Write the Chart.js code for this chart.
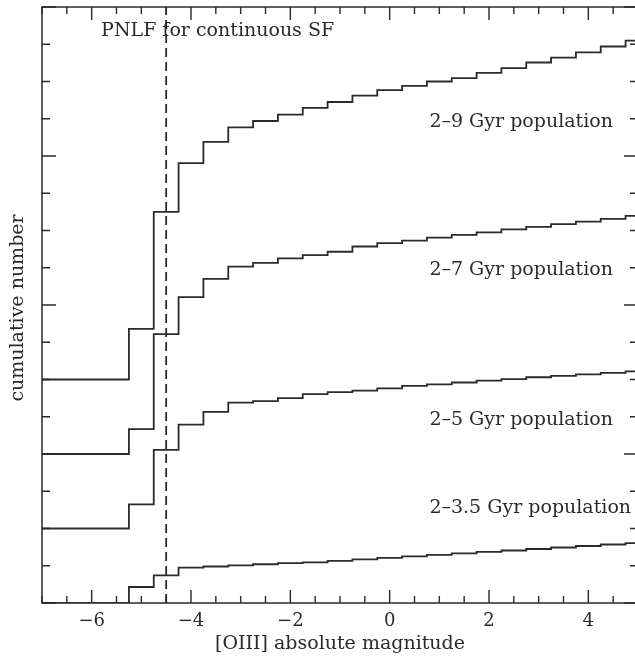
<!DOCTYPE html>
<html><head><meta charset="utf-8">
<script src="https://cdn.jsdelivr.net/npm/chart.js@4"></script>
<style>html,body{margin:0;padding:0;background:#fff;overflow:hidden}
#wrap{width:640px;height:656px;position:relative}</style></head>
<body><div id="wrap"><canvas id="c"></canvas></div>
<script>
// bin start magnitudes (last bin runs to xEnd)
const binStarts = [-7, -5.25, -4.75, -4.25, -3.75, -3.25, -2.75, -2.25, -1.75, -1.25, -0.75, -0.25, 0.25, 0.75, 1.25, 1.75, 2.25, 2.75, 3.25, 3.75, 4.25, 4.75];
const xEnd = 5;
// cumulative number (with vertical offsets as in the figure)
const pop2to9  = [6.0, 7.36, 10.50, 11.81, 12.38, 12.77, 12.94, 13.11, 13.29, 13.45, 13.62, 13.77, 13.88, 14.00, 14.09, 14.23, 14.36, 14.51, 14.64, 14.78, 14.94, 15.10];
const pop2to7  = [4.0, 4.67, 7.22, 8.21, 8.70, 9.03, 9.13, 9.25, 9.34, 9.43, 9.57, 9.66, 9.73, 9.81, 9.88, 9.95, 10.03, 10.10, 10.17, 10.24, 10.31, 10.39];
const pop2to5  = [2.0, 2.65, 4.11, 4.79, 5.13, 5.38, 5.42, 5.50, 5.61, 5.66, 5.70, 5.76, 5.83, 5.87, 5.92, 5.97, 6.01, 6.06, 6.10, 6.14, 6.18, 6.22];
const pop2to35 = [0.0, 0.43, 0.74, 0.95, 0.98, 1.01, 1.04, 1.07, 1.09, 1.13, 1.17, 1.21, 1.25, 1.29, 1.33, 1.37, 1.41, 1.45, 1.49, 1.53, 1.57, 1.61];
const seriesNames = ["2\u20139 Gyr population", "2\u20137 Gyr population", "2\u20135 Gyr population", "2\u20133.5 Gyr population"];
const labelY = [12.9, 8.94, 4.91, 2.55];
const labelX = 0.8;
const pnlfCutoff = -4.5;
const pnlfTitle = "PNLF for continuous SF";
const xTickVals = [-6, -4, -2, 0, 2, 4];
const xLabel = "[OIII] absolute magnitude";
const yLabel = "cumulative number";

const FONT = '"DejaVu Serif", serif';
const INK = '#2a2a2a';

function steps(vals){
  const pts = binStarts.map((x,i)=>({x:x, y:vals[i]}));
  pts.push({x:xEnd, y:vals[vals.length-1]});
  return pts;
}
const lineDs = (vals, name) => ({label:name, data:steps(vals), showLine:true, stepped:true, borderColor:INK, borderWidth:1.8, pointRadius:0, fill:false});

const decor = {
  id:'decor',
  afterDraw(chart){
    const {ctx, chartArea:a, scales:{x, y}} = chart;
    ctx.save();
    ctx.strokeStyle = INK; ctx.lineWidth = 1.5;
    ctx.strokeRect(a.left, a.top, a.right-a.left, a.bottom-a.top);
    // inward ticks
    ctx.lineWidth = 1.4;
    ctx.beginPath();
    for (let v=-7; v<=5.001; v+=0.5){
      const px = x.getPixelForValue(v);
      const len = (Math.abs(v % 2) < 1e-6) ? 13 : 7;
      ctx.moveTo(px, a.bottom); ctx.lineTo(px, a.bottom-len);
      ctx.moveTo(px, a.top); ctx.lineTo(px, a.top+len);
    }
    for (let v=0; v<=16; v+=1){
      const py = y.getPixelForValue(v);
      const len = (v % 4 === 0) ? 14 : 8;
      ctx.moveTo(a.left, py); ctx.lineTo(a.left+len, py);
      ctx.moveTo(a.right, py); ctx.lineTo(a.right-len, py);
    }
    ctx.stroke();
    // text labels
    ctx.fillStyle = INK;
    ctx.font = '19px ' + FONT;
    ctx.textBaseline = 'middle';
    ctx.textAlign = 'left';
    seriesNames.forEach((s,i)=>{
      ctx.fillText(s, x.getPixelForValue(labelX), y.getPixelForValue(labelY[i]));
    });
    ctx.fillText(pnlfTitle, x.getPixelForValue(-5.81), y.getPixelForValue(15.36));
    // y title
    ctx.translate(18, (a.top+a.bottom)/2 + 3);
    ctx.rotate(-Math.PI/2);
    ctx.textAlign = 'center';
    ctx.fillText(yLabel, 0, 0);
    ctx.restore();
  }
};

new Chart(document.getElementById('c'), {
  type:'scatter',
  data:{datasets:[
    lineDs(pop2to9, seriesNames[0]),
    lineDs(pop2to7, seriesNames[1]),
    lineDs(pop2to5, seriesNames[2]),
    lineDs(pop2to35, seriesNames[3]),
    {label:'PNLF', data:[{x:pnlfCutoff,y:0},{x:pnlfCutoff,y:16}], showLine:true, borderColor:INK, borderWidth:1.8, borderDash:[9,5], pointRadius:0}
  ]},
  options:{
    responsive:true, maintainAspectRatio:false, animation:false,
    layout:{padding:{left:42, right:2, top:7, bottom:0}},
    plugins:{legend:{display:false}, tooltip:{enabled:false}},
    scales:{
      x:{type:'linear', min:-7, max:5, position:'bottom',
         grid:{display:false, drawTicks:false}, border:{display:false},
         afterBuildTicks:(s)=>{ s.ticks = xTickVals.map(v=>({value:v})); },
         afterFit:(s)=>{ s.height = 53; },
         ticks:{padding:8, color:INK, font:{family:FONT, size:18}, callback:(v)=>String(v).replace('-', '\u2212')},
         title:{display:true, text:xLabel, color:INK, font:{family:FONT, size:19}, padding:{top:0, bottom:1}}},
      y:{type:'linear', min:0, max:16, display:false}
    }
  },
  plugins:[decor]
});
</script></body></html>
